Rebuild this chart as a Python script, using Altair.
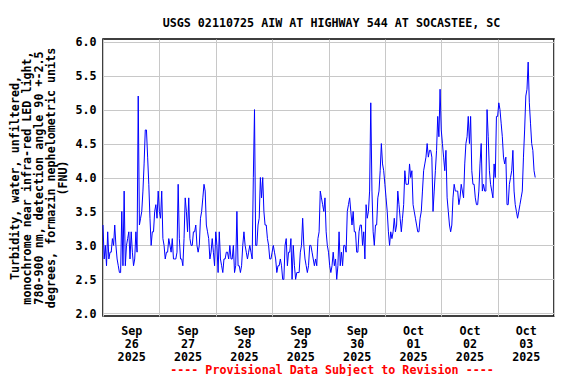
import altair as alt
import pandas as pd

# Turbidity (FNU), 30-minute readings starting Sep 26 2025 00:00
sep26 = [3.3, 2.8, 3.0, 2.7, 3.2, 2.8, 2.9, 2.9, 3.1, 3.0, 3.3, 3.0,
         2.8, 2.7, 2.6, 2.6, 3.5, 2.7, 3.8, 2.7, 3.0, 3.1, 3.2, 2.8,
         3.2, 2.9, 2.7, 2.8, 3.2, 2.9, 5.2, 3.3, 3.4, 3.5, 3.8, 4.2,
         4.7, 4.7, 4.3, 3.9, 3.4, 3.0, 3.2, 3.2, 3.5, 3.6, 3.4, 3.8]
sep27 = [3.5, 3.4, 3.8, 3.1, 3.0, 2.8, 2.9, 2.9, 3.1, 3.0, 2.9, 3.1,
         2.8, 2.8, 2.8, 2.9, 3.9, 3.1, 2.8, 2.8, 2.7, 3.1, 3.7, 3.5,
         3.2, 3.7, 3.1, 3.0, 3.0, 3.2, 3.2, 3.3, 3.0, 2.9, 3.0, 3.4,
         3.5, 3.7, 3.9, 3.8, 3.3, 3.2, 3.1, 2.8, 2.9, 3.1, 2.9, 2.7]
sep28 = [3.2, 3.0, 2.6, 3.2, 2.8, 2.7, 2.6, 2.8, 2.8, 2.9, 2.9, 2.8,
         3.0, 2.8, 2.8, 3.0, 2.6, 2.7, 3.5, 2.7, 2.7, 2.6, 2.7, 3.0,
         3.2, 3.0, 2.9, 2.8, 2.9, 3.0, 2.9, 2.8, 4.0, 5.0, 3.0, 3.0,
         3.3, 3.4, 4.0, 3.7, 4.0, 3.5, 3.3, 3.3, 3.1, 3.0, 2.8, 2.8]
sep29 = [2.9, 3.0, 2.9, 2.8, 2.6, 2.7, 2.7, 2.8, 2.7, 2.5, 2.5, 3.0,
         3.1, 2.7, 2.9, 2.9, 3.1, 2.5, 3.0, 2.7, 2.5, 2.6, 2.6, 2.6,
         2.9, 3.0, 3.4, 3.0, 2.8, 2.7, 2.6, 2.7, 3.0, 3.0, 2.9, 2.8,
         2.7, 2.8, 2.7, 3.1, 3.2, 3.8, 3.7, 3.6, 3.5, 3.7, 3.2, 3.0]
sep30 = [2.9, 2.7, 2.6, 2.7, 2.9, 2.7, 2.8, 2.5, 2.7, 3.2, 2.7, 2.9,
         2.7, 3.0, 3.0, 2.9, 3.5, 3.6, 3.7, 3.5, 3.3, 3.5, 3.2, 3.2,
         2.9, 2.9, 3.2, 3.3, 3.3, 3.0, 3.2, 2.8, 3.6, 3.4, 3.5, 3.8,
         5.1, 3.8, 3.2, 3.0, 3.3, 3.3, 3.7, 3.8, 4.1, 4.5, 4.2, 4.1]
oct01 = [3.9, 3.7, 3.5, 3.2, 3.0, 3.2, 3.1, 3.2, 3.4, 3.2, 3.3, 3.8,
         3.6, 3.4, 3.2, 3.4, 3.6, 4.1, 3.9, 3.9, 3.9, 4.2, 4.0, 4.1,
         3.6, 3.5, 3.4, 3.3, 3.2, 3.2, 3.4, 3.5, 3.8, 4.1, 4.2, 4.3,
         4.5, 4.3, 4.4, 4.4, 4.3, 3.5, 3.8, 4.1, 4.4, 4.9, 4.6, 5.3]
oct02 = [4.7, 4.5, 4.3, 4.1, 4.4, 3.7, 3.5, 3.3, 3.2, 3.3, 3.7, 3.9,
         3.8, 3.8, 3.8, 3.6, 3.7, 3.9, 3.8, 3.7, 4.2, 4.5, 4.6, 4.9,
         4.5, 4.9, 4.1, 3.9, 3.9, 3.7, 3.6, 3.6, 3.8, 4.2, 4.5, 3.8,
         3.9, 3.8, 3.8, 5.0, 4.6, 4.1, 3.9, 3.8, 3.7, 4.2, 4.0, 4.9]
oct03 = [4.9, 5.1, 5.0, 4.8, 4.6, 4.3, 4.2, 4.3, 3.6, 3.6, 3.9, 4.0,
         4.1, 4.4, 3.8, 3.6, 3.5, 3.4, 3.5, 3.6, 3.7, 3.8, 4.3, 4.7,
         5.2, 5.3, 5.7, 5.1, 4.8, 4.5, 4.4, 4.1, 4.0]

y_ticks = [2.0, 2.5, 3.0, 3.5, 4.0, 4.5, 5.0, 5.5, 6.0]
title_text = "USGS 02110725 AIW AT HIGHWAY 544 AT SOCASTEE, SC"
y_title = ["Turbidity, water, unfiltered,",
           "monochrome near infra-red LED light,",
           "780-900 nm, detection angle 90 +-2.5",
           "degrees, formazin nephelometric units",
           "(FNU)"]
footer = "---- Provisional Data Subject to Revision ----"

values = sep26 + sep27 + sep28 + sep29 + sep30 + oct01 + oct02 + oct03
times = pd.date_range("2025-09-26 00:00", periods=len(values), freq="30min")
df = pd.DataFrame({"time": times.strftime("%Y-%m-%dT%H:%M:%S"), "fnu": values})

FONT = "DejaVu Sans Mono"
FS = 11.7

days = [(9, 26), (9, 27), (9, 28), (9, 29), (9, 30), (10, 1), (10, 2), (10, 3), (10, 4)]
x_vals = []
for i, (m, d) in enumerate(days):
    x_vals.append(alt.DateTime(year=2025, month=m, date=d, hours=0))
    if i < len(days) - 1:
        x_vals.append(alt.DateTime(year=2025, month=m, date=d, hours=12))

x_axis = alt.Axis(
    values=x_vals,
    labelExpr="hours(datum.value) == 12 ? [timeFormat(datum.value, '%b'), timeFormat(datum.value, '%d'), timeFormat(datum.value, '%Y')] : ''",
    labelOverlap=False, labelFlush=False,
    labelFont=FONT, labelFontSize=FS, labelFontWeight="bold", labelColor="black",
    labelLineHeight=13, labelPadding=9,
    ticks=False, tickSize=0, domain=False,
    gridColor="#c8c8c8", gridWidth=1,
    gridOpacity={"condition": {"test": "hours(datum.value) == 0", "value": 1}, "value": 0},
    title=footer, titleFont=FONT, titleFontSize=FS, titleFontWeight="bold",
    titleColor="#ff0000", titlePadding=2, titleX=228.5,
)

y_axis = alt.Axis(
    values=y_ticks, format=".1f",
    labelFont=FONT, labelFontSize=FS, labelFontWeight="bold", labelColor="black",
    labelPadding=7, ticks=False, tickSize=0, domain=False,
    gridColor="#c8c8c8", gridWidth=1,
    title=y_title, titleFont=FONT, titleFontSize=FS, titleFontWeight="bold",
    titleColor="black", titleLineHeight=12, titlePadding=6,
)

chart = alt.Chart(df).mark_line(color="#0000ff", strokeWidth=1).encode(
    x=alt.X("time:T", axis=x_axis,
            scale=alt.Scale(domain=[alt.DateTime(year=2025, month=9, date=26, hours=0),
                                    alt.DateTime(year=2025, month=10, date=4, hours=0)])),
    y=alt.Y("fnu:Q", axis=y_axis, scale=alt.Scale(domain=[1.96, 6.04], nice=False, zero=False)),
).properties(
    width=451, height=277,
    title=alt.TitleParams(title_text, font=FONT, fontSize=FS, fontWeight="bold",
                          color="black", anchor="middle", offset=7, dx=3),
    autosize=alt.AutoSizeParams(type="none"),
    padding={"left": 95, "top": 31, "right": 14, "bottom": 60},
    background="white",
).configure_view(stroke="black", strokeWidth=1.5)

chart.save("out.html", embed_options={"renderer": "svg", "actions": False})
